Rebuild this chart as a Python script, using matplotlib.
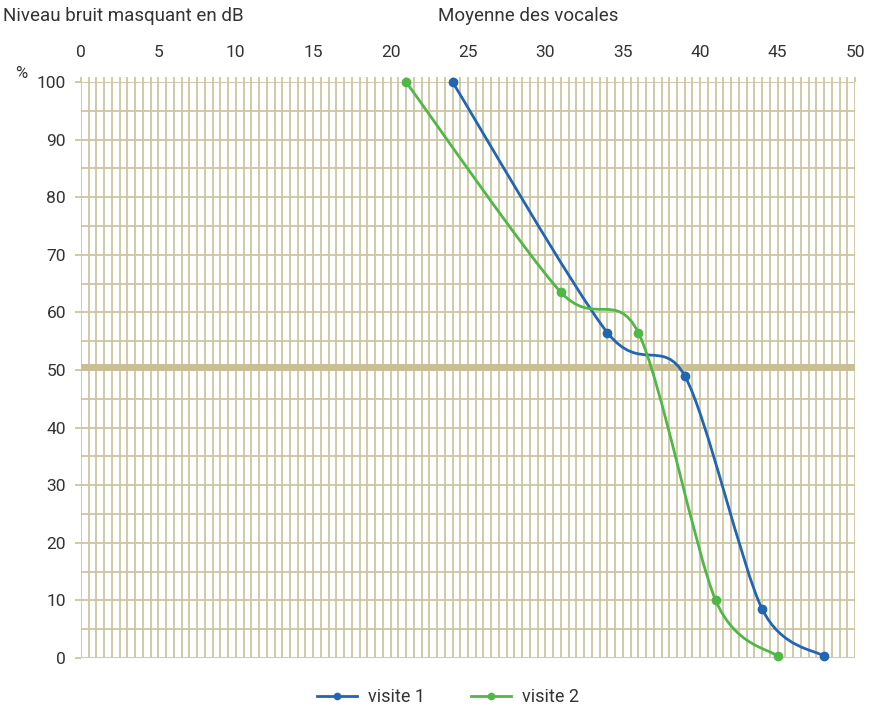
import matplotlib
matplotlib.use('Agg')
import matplotlib.pyplot as plt
from matplotlib.path import Path
from matplotlib.patches import PathPatch
from matplotlib.lines import Line2D
import numpy as np

plt.rcParams['font.family'] = ['Roboto', 'DejaVu Sans']

# Données
niveau_v1 = [24, 34, 39, 44, 48]
pct_v1 = [100, 56.5, 49, 8.5, 0.3]
niveau_v2 = [21, 31, 36, 41, 45]
pct_v2 = [100, 63.5, 56.5, 10, 0.3]
seuil = 50.5

x_ticks = list(range(0, 51, 5))
y_ticks = list(range(0, 101, 10))

BLEU = '#2165b3'
VERT = '#4fb847'
GRILLE = '#cdc5a2'
TEXTE = '#333333'


def courbe_lissee(xs, ys, k=7):
    """Chemin Bézier façon 'ligne lissée' (Catmull-Rom)."""
    pts = np.column_stack([xs, ys]).astype(float)
    n = len(pts)
    verts = [pts[0]]
    codes = [Path.MOVETO]
    for i in range(n - 1):
        p0 = pts[i - 1] if i > 0 else pts[i]
        p1 = pts[i]
        p2 = pts[i + 1]
        p3 = pts[i + 2] if i + 2 < n else pts[i + 1]
        c1 = p1 + (p2 - p0) / k
        c2 = p2 - (p3 - p1) / k
        verts += [c1, c2, p2]
        codes += [Path.CURVE4] * 3
    return Path(verts, codes)


fig = plt.figure(figsize=(8.76, 7.08), dpi=100)
ax = fig.add_axes([81 / 876, 1 - 658 / 708, (855 - 81) / 876, (658 - 82) / 708])

ax.set_xlim(0, 50)
ax.set_ylim(0, 100)
for s in ax.spines.values():
    s.set_visible(False)

# Grille
ax.set_xticks(x_ticks)
ax.set_xticks(np.arange(0, 50.01, 0.5), minor=True)
ax.set_yticks(y_ticks)
ax.set_yticks(np.arange(0, 100.01, 5), minor=True)
ax.grid(True, which='both', color=GRILLE, lw=1.3, zorder=0)
ax.set_axisbelow(True)

ax.xaxis.tick_top()
ax.tick_params(axis='x', which='both', top=True, bottom=False, length=3.6,
               color=GRILLE, width=1.3, labelsize=12.5, labelcolor=TEXTE, pad=12)
ax.tick_params(axis='y', which='major', left=True, length=4.3, color=GRILLE,
               width=1.3, labelsize=12.5, labelcolor=TEXTE, pad=6.5)
ax.tick_params(axis='y', which='minor', left=False)

ax.axhline(seuil, color='#c9bf95', lw=5, zorder=1)

for xs, ys, c in [(niveau_v1, pct_v1, BLEU), (niveau_v2, pct_v2, VERT)]:
    ax.add_patch(PathPatch(courbe_lissee(xs, ys), fill=False, edgecolor=c,
                           lw=2, zorder=3, capstyle='round'))
    ax.plot(xs, ys, ls='none', marker='o', ms=6, color=c, zorder=4, clip_on=False)

fig.text(3 / 876, 1 - 16 / 708, 'Niveau bruit masquant en dB', fontsize=13.5,
         color=TEXTE, va='center')
fig.text(438 / 876, 1 - 16 / 708, 'Moyenne des vocales', fontsize=13.5,
         color=TEXTE, va='center')
fig.text(15 / 876, 1 - 74 / 708, '%', fontsize=12, color=TEXTE, va='center')

handles = [Line2D([], [], color=BLEU, lw=2, marker='o', ms=4.5),
           Line2D([], [], color=VERT, lw=2, marker='o', ms=4.5)]
fig.legend(handles, ['visite 1', 'visite 2'], loc='center',
           bbox_to_anchor=(0.5 + 10 / 876, 1 - 697 / 708), ncol=2, frameon=False,
           fontsize=13, handlelength=2.2, handletextpad=0.6, columnspacing=2.6,
           labelcolor=TEXTE)

fig.savefig('out.png', dpi=100)
